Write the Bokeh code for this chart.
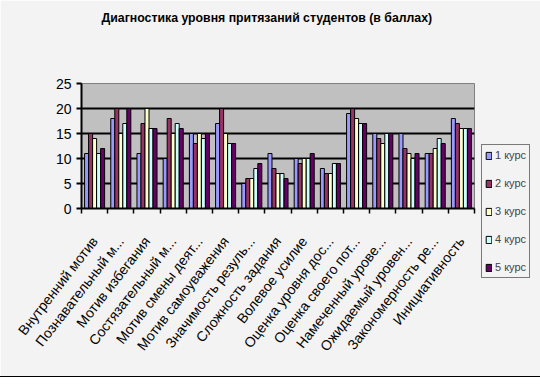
import numpy as np
from bokeh.plotting import figure
from bokeh.models import FixedTicker, Legend, LegendItem, ColumnDataSource, Range1d, Title
from bokeh.embed import file_html
from bokeh.resources import INLINE

title_text = "Диагностика уровня притязаний студентов (в баллах)"
categories = ["Внутренний мотив", "Познавательный м...", "Мотив избегания",
              "Состязательный м...", "Мотив смены деят...", "Мотив самоуважения",
              "Значимость резуль...", "Сложность задания", "Волевое усилие",
              "Оценка уровня дос...", "Оценка своего пот...", "Намеченный урове...",
              "Ожидаемый уровен...", "Закономерность ре...", "Инициативность"]
series_names = ["1 курс", "2 курс", "3 курс", "4 курс", "5 курс"]
kurs1 = [11, 18, 11, 10, 15, 17, 5, 11, 10, 8, 19, 15, 15, 11, 18]
kurs2 = [15, 20, 17, 18, 13, 20, 6, 8, 9, 7, 20, 14, 12, 11, 17]
kurs3 = [14, 15, 20, 15, 15, 15, 6, 7, 10, 7, 18, 13, 11, 12, 16]
kurs4 = [11, 17, 16, 17, 14, 13, 8, 7, 10, 9, 17, 15, 10, 14, 16]
kurs5 = [12, 20, 16, 16, 15, 13, 9, 6, 11, 9, 17, 15, 11, 13, 16]
y_ticks = [0, 5, 10, 15, 20, 25]
colors = ["#9999ff", "#993366", "#ffffcc", "#ccffff", "#660066"]

BG = "#f3f3f3"
series = [kurs1, kurs2, kurs3, kurs4, kurs5]
n = len(categories)
centers = np.arange(1, n + 1)
bar_w = 0.153

p = figure(frame_width=393, frame_height=125, output_backend="svg", toolbar_location=None,
           x_range=Range1d(0.5, n + 0.5), y_range=Range1d(0, 25),
           min_border_left=81, min_border_right=54, min_border_top=83, min_border_bottom=168)
p.background_fill_color = "#c0c0c0"
p.border_fill_color = BG
p.outline_line_color = "#808080"
p.styles = {"outline": "1px solid black"}

# visible title (outermost) and an invisible spacer title next to the frame
p.title.text = title_text
p.title.align = "left"
p.title.offset = 20
p.title.standoff = 0
p.title.text_font = "Liberation Sans"
p.title.text_font_style = "bold"
p.title.text_font_size = "12.3px"
p.title.text_color = "black"
p.add_layout(Title(text=" ", text_font_size="1px", standoff=56), "above")

items = []
for j, (vals, name, col) in enumerate(zip(series, series_names, colors)):
    src = ColumnDataSource(dict(x=centers + (j - 2) * bar_w, top=vals))
    r = p.vbar(x="x", top="top", width=bar_w, bottom=0, source=src,
               fill_color=col, line_color="black", line_width=1)
    items.append(LegendItem(label=name, renderers=[r]))

p.xgrid.visible = False
p.ygrid.ticker = FixedTicker(ticks=y_ticks[1:-1])
p.ygrid.grid_line_color = "black"
p.ygrid.grid_line_width = 2

p.yaxis.ticker = FixedTicker(ticks=y_ticks)
p.yaxis.axis_line_width = 2
p.yaxis.major_tick_line_width = 2
p.yaxis.major_tick_out = 5
p.yaxis.major_tick_in = 0
p.yaxis.minor_tick_line_color = None
p.yaxis.major_label_text_font = "Liberation Sans"
p.yaxis.major_label_text_font_size = "14px"
p.yaxis.major_label_text_color = "black"

p.xaxis.ticker = FixedTicker(ticks=list(centers), minor_ticks=list(np.arange(0.5, n + 1, 1.0)))
p.xaxis.major_label_overrides = {int(c): lab for c, lab in zip(centers, categories)}
p.xaxis.major_label_orientation = 0.91
p.xaxis.major_label_standoff = 25
p.xaxis.major_label_text_font = "Liberation Sans"
p.xaxis.major_label_text_font_size = "14px"
p.xaxis.major_label_text_color = "black"
p.xaxis.axis_line_width = 2
p.xaxis.major_tick_out = 0
p.xaxis.major_tick_in = 0
p.xaxis.minor_tick_out = 5
p.xaxis.minor_tick_in = 0
p.xaxis.minor_tick_line_color = "black"
p.xaxis.minor_tick_line_width = 1.5

legend = Legend(items=items, location=(7, -70))
legend.border_line_color = "black"
legend.background_fill_color = BG
legend.background_fill_alpha = 1
legend.label_text_font = "Liberation Sans"
legend.label_text_font_size = "11px"
legend.glyph_width = 7
legend.glyph_height = 9
legend.label_height = 14
legend.label_standoff = 3
legend.padding = 3
legend.spacing = 14
legend.margin = 0
p.add_layout(legend, "right")

open("out.html", "w").write(file_html(p, INLINE))
